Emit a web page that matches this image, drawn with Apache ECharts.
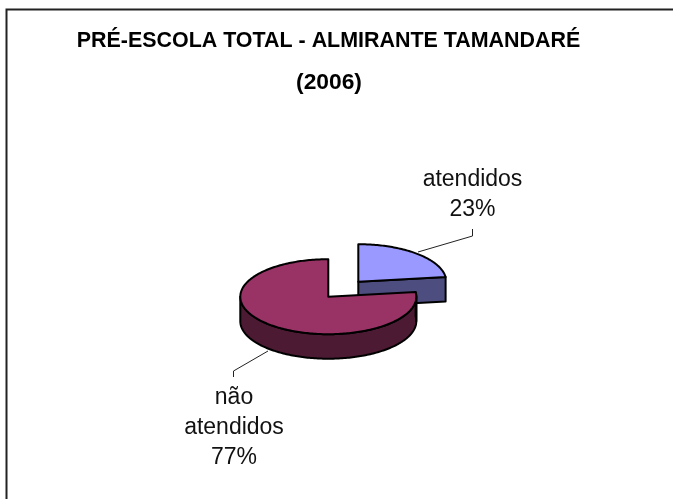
<!DOCTYPE html>
<html><head><meta charset="utf-8">
<style>html,body{margin:0;padding:0;background:#fff}#c{width:673px;height:499px}</style>
<script src="https://cdn.jsdelivr.net/npm/echarts@6/dist/echarts.min.js"></script>
</head><body><div id="c"></div>
<script>
const categories = ['atendidos', 'não atendidos'];
const values = [23, 77];
const labelLines = [['atendidos', '23%'], ['não', 'atendidos', '77%']];
const titleLines = ['PRÉ-ESCOLA TOTAL - ALMIRANTE TAMANDARÉ', '(2006)'];

const topColors = ['#9999FF', '#993366'];
const sideColors = ['#4D4D80', '#4D1A33'];
const centers = [[358.3, 281.7], [328.3, 296.7]];
const RX = 88, RY = 37.5, DEPTH = 24.5;
const labelPos = [[472.5, 165], [234, 383]];
const leaders = [
  [[418, 252], [472.5, 236], [472.5, 229]],
  [[268, 351], [233.5, 371], [233.5, 377]]
];
const total = values.reduce((a, b) => a + b, 0);

function rim(c, ang, dy) {
  return [c[0] + RX * Math.sin(ang), c[1] - RY * Math.cos(ang) + (dy || 0)];
}
function arcPts(c, a0, a1, dy) {
  const pts = [], n = Math.max(2, Math.ceil(Math.abs(a1 - a0) / 0.02));
  for (let i = 0; i <= n; i++) pts.push(rim(c, a0 + (a1 - a0) * i / n, dy));
  return pts;
}
const stroke = { stroke: '#000', lineWidth: 2, lineJoin: 'round' };

function renderItem(params, api) {
  const i = params.dataIndex;
  const c = centers[i];
  let before = 0;
  for (let k = 0; k < i; k++) before += values[k];
  const a0 = before / total * 2 * Math.PI;
  const a1 = (before + api.value(1)) / total * 2 * Math.PI;
  const children = [];

  children.push({ type: 'polyline', shape: { points: leaders[i] },
    style: { fill: 'none', stroke: '#222', lineWidth: 1 } });

  if (a1 < Math.PI) {
    children.push({ type: 'polygon', shape: { points: [
      c, rim(c, a1), rim(c, a1, DEPTH), [c[0], c[1] + DEPTH]
    ] }, style: Object.assign({ fill: sideColors[i] }, stroke) });
  }
  const s0 = Math.max(a0, Math.PI / 2);
  const s1 = Math.min(a1, Math.PI * 1.5);
  if (s1 > s0) {
    children.push({ type: 'polygon', shape: { points:
      arcPts(c, s0, s1).concat(arcPts(c, s1, s0, DEPTH)) },
      style: Object.assign({ fill: sideColors[i] }, stroke) });
  }
  if (a0 < Math.PI / 2 && a1 > Math.PI / 2) {
    children.push({ type: 'polygon', shape: { points:
      arcPts(c, a0, Math.PI / 2).concat(arcPts(c, Math.PI / 2, a0, DEPTH)) },
      style: Object.assign({ fill: sideColors[i] }, stroke) });
  }
  children.push({ type: 'polygon', shape: { points: [c].concat(arcPts(c, a0, a1)) },
    style: Object.assign({ fill: topColors[i] }, stroke) });
  children.push({ type: 'text', x: labelPos[i][0], y: labelPos[i][1],
    style: { text: labelLines[i].join('\n'), fill: '#111', align: 'center', verticalAlign: 'top',
      font: '23px "Liberation Sans"', lineHeight: 30 } });
  return { type: 'group', children };
}

const chart = echarts.init(document.getElementById('c'), null, { renderer: 'canvas' });
chart.setOption({
  animation: false,
  backgroundColor: '#fff',
  graphic: [
    { type: 'polyline', shape: { points: [[6.5, 499], [6.5, 9.5], [673, 9.5]] }, z: -10,
      style: { fill: 'none', stroke: '#222', lineWidth: 2 } },
    { type: 'text', x: 328.5, y: 41, scaleX: 0.94, z: 5,
      style: { text: titleLines[0], fill: '#000', align: 'center', verticalAlign: 'middle',
        font: 'bold 22.8px "Liberation Sans"' } },
    { type: 'text', x: 329, y: 83, z: 5,
      style: { text: titleLines[1], fill: '#000', align: 'center', verticalAlign: 'middle',
        font: 'bold 22.8px "Liberation Sans"' } }
  ],
  series: [{
    type: 'custom',
    coordinateSystem: 'none',
    renderItem,
    data: categories.map((n, i) => ({ name: n, value: [i, values[i]] }))
  }]
});
</script></body></html>
